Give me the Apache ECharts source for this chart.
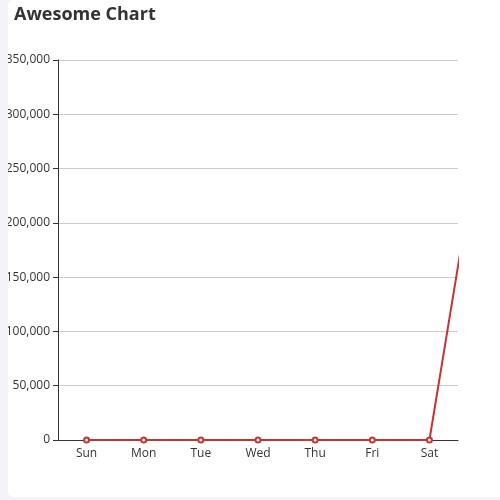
<!DOCTYPE html>
<html>
<head>
<meta charset="utf-8">
<script src="https://cdn.jsdelivr.net/npm/echarts@6/dist/echarts.min.js"></script>
<style>
  html, body { margin: 0; padding: 0; background: #f3f3f9; }
  .card {
    position: absolute; left: 8px; top: 0; width: 500px; height: 497px;
    background: #fff; border-radius: 6px; overflow: hidden;
  }
  #chart { position: absolute; left: -8px; top: 0; width: 500px; height: 497px; }
</style>
</head>
<body>
<div class="card"><div id="chart"></div></div>
<script>
// x 轴类目
const days = ['Sun', 'Mon', 'Tue', 'Wed', 'Thu', 'Fri', 'Sat'];
// 数据比类目多一个点，超出网格部分被裁掉
const values = [0, 0, 0, 0, 0, 0, 0, 320000];

const chart = echarts.init(document.getElementById('chart'));

chart.setOption({
  animation: false,
  textStyle: { fontFamily: 'Open Sans, Noto Sans, sans-serif' },
  title: {
    text: 'Awesome Chart',
    left: 9,
    top: 1,
    textStyle: { fontSize: 18, fontWeight: 'bold', color: '#333' }
  },
  grid: { left: 58, right: 42, top: 60, bottom: 57 },
  xAxis: {
    type: 'category',
    data: days,
    axisLine: { lineStyle: { color: '#333' } },
    axisTick: { lineStyle: { color: '#333' } },
    axisLabel: { color: '#333', fontSize: 12 }
  },
  yAxis: {
    type: 'value',
    min: 0,
    max: 350000,
    interval: 50000,
    axisLine: { show: true, lineStyle: { color: '#333' } },
    axisTick: { show: true, lineStyle: { color: '#333' } },
    axisLabel: {
      color: '#333',
      fontSize: 12,
      formatter: v => v.toLocaleString('en-US')
    },
    splitLine: { lineStyle: { color: '#ccc' } }
  },
  series: [{
    type: 'line',
    data: values,
    symbol: 'emptyCircle',
    symbolSize: 5,
    clip: true,
    itemStyle: { color: '#c23531' },
    lineStyle: { color: '#c23531', width: 2 }
  }]
});
</script>
</body>
</html>
